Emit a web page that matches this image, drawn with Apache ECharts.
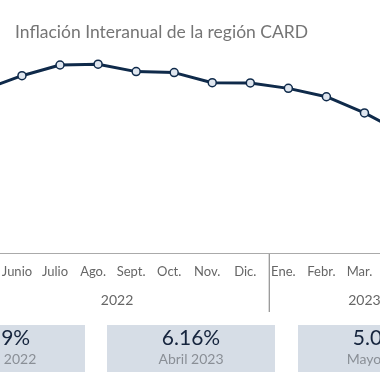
<!DOCTYPE html>
<html><head><meta charset="utf-8">
<script src="https://cdn.jsdelivr.net/npm/echarts@6/dist/echarts.min.js"></script>
<style>html,body{margin:0;padding:0;background:#fff;overflow:hidden;width:380px;height:380px;position:relative}#c{position:absolute;left:-40px;top:0;width:560px;height:380px}</style>
</head><body><div id="c"></div>
<script>
const months = ['Mayo','Junio','Julio','Ago.','Sept.','Oct.','Nov.','Dic.','Ene.','Febr.','Mar.','Abr.','Mayo'];
const years = ['2022','2023'];
const yearStart = [0, 8];
const yearEnd = [7, 12];
const inflation = [8.39, 9.10, 9.65, 9.69, 9.31, 9.26, 8.74, 8.73, 8.45, 8.02, 7.19, 6.16, 5.04];
const boxValues = ['8.39%', '6.16%', '5.04%'];
const boxLabels = ['Mayo 2022', 'Abril 2023', 'Mayo 2023'];
const title = 'Inflación Interanual de la región CARD';

const OFF = 40; // container shift
const FONT = 'Lato, "Open Sans", sans-serif';
const chart = echarts.init(document.getElementById('c'), null, {renderer: 'canvas'});
chart.setOption({
  animation: false,
  backgroundColor: '#fff',
  title: {text: title, left: 10 + OFF, top: 18, textStyle: {fontFamily: FONT, fontSize: 17.5, fontWeight: 'normal', color: '#757575'}},
  grid: {left: OFF - 38.3, width: 497.9, top: 19.2, bottom: 127, containLabel: false},
  xAxis: {
    type: 'category', data: months, boundaryGap: true,
    axisLine: {lineStyle: {color: '#aaa', width: 1}},
    axisTick: {show: false},
    axisLabel: {interval: 0, color: '#666', fontFamily: FONT, fontSize: 13, margin: 12, padding: [0, 10, 0, 0]}
  },
  yAxis: {type: 'value', min: 0, max: 12, show: false, splitLine: {show: false}},
  series: [{
    type: 'line', data: inflation,
    lineStyle: {color: '#0f2a4a', width: 3},
    symbol: 'circle', symbolSize: 8,
    itemStyle: {color: '#dfe6ef', borderColor: '#0f2a4a', borderWidth: 1.5}
  }]
});

const g = [];
const axisY = chart.convertToPixel({gridIndex: 0}, [0, 0])[1];
const x0 = chart.convertToPixel({xAxisIndex: 0}, 0);
const x1 = chart.convertToPixel({xAxisIndex: 0}, 1);
const band = x1 - x0;
years.forEach((y, i) => {
  const a = chart.convertToPixel({xAxisIndex: 0}, yearStart[i]) - band / 2;
  const b = chart.convertToPixel({xAxisIndex: 0}, yearEnd[i]) + band / 2;
  g.push({type: 'text', x: (a + b) / 2, y: 300, style: {text: y, fill: '#666', font: '14px ' + FONT, textAlign: 'center', textVerticalAlign: 'middle'}});
  g.push({type: 'line', shape: {x1: b, y1: axisY, x2: b, y2: 312}, style: {stroke: '#999', lineWidth: 1}});
  g.push({type: 'line', shape: {x1: a, y1: axisY, x2: a, y2: 312}, style: {stroke: '#999', lineWidth: 1}});
});
const boxCenters = [1, 191, 382];
boxValues.forEach((v, i) => {
  const cx = boxCenters[i] + OFF;
  g.push({type: 'rect', shape: {x: cx - 84, y: 325, width: 168, height: 47}, style: {fill: '#d6dde6'}});
  g.push({type: 'text', x: cx, y: 338, style: {text: v, fill: '#15243d', font: '21px ' + FONT, textAlign: 'center', textVerticalAlign: 'middle'}});
  g.push({type: 'text', x: cx, y: 359, style: {text: boxLabels[i], fill: '#8a8f96', font: '14px ' + FONT, textAlign: 'center', textVerticalAlign: 'middle'}});
});
chart.setOption({graphic: g});
</script></body></html>
